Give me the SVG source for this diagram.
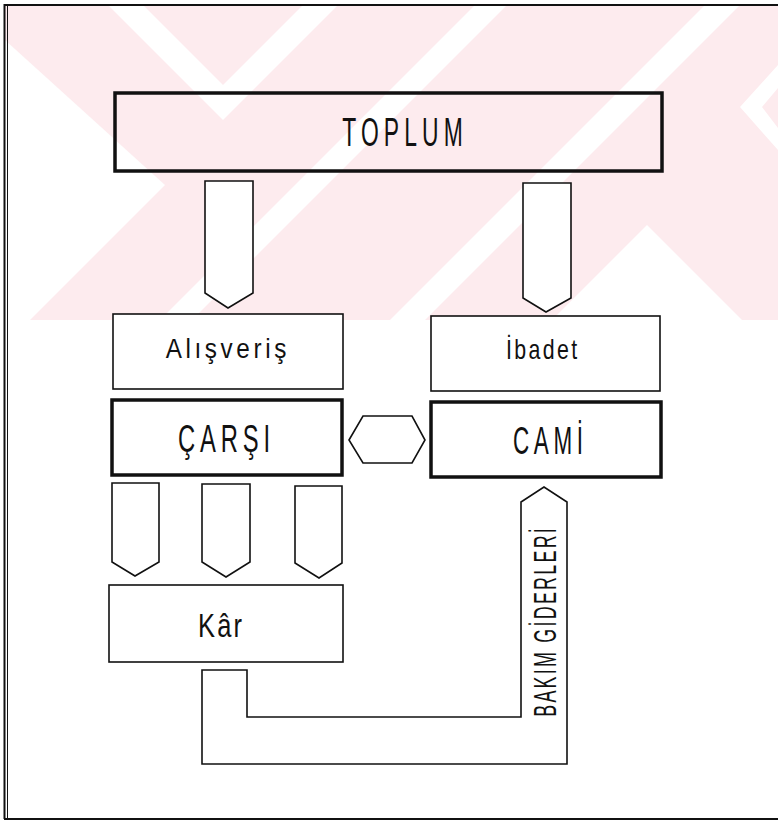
<svg xmlns="http://www.w3.org/2000/svg" width="778" height="821" viewBox="0 0 778 821">
<style>
.thin{fill:#fff;stroke:#111;stroke-width:1.6;stroke-linejoin:miter}
.open{fill:none;stroke:#111;stroke-width:3.5}
.thick{fill:#fff;stroke:#111;stroke-width:3.5}
.arr{fill:#fff;stroke:#111;stroke-width:1.6;stroke-linejoin:miter}
.wm{fill:#fdebee}
.wh{fill:#fff}
text{font-family:"Liberation Sans",Arial,sans-serif;fill:#111;text-anchor:middle}
</style>
<defs>
<clipPath id="wmclip"><rect x="5" y="5" width="773" height="315"/></clipPath>
</defs>
<rect width="778" height="821" fill="#fff"/>
<g id="watermark" clip-path="url(#wmclip)">
<rect class="wm" x="5" y="5" width="773" height="315"/>
<polygon class="wh" points="5,40 165,185 5,345"/>
<polygon class="wh" points="108,5 143,5 223,85 303,5 338,5 223,120"/>
<polygon class="wh" points="160,320 192,320 507,5 475,5"/>
<polygon class="wh" points="390,320 425,320 740,5 705,5"/>
<polygon class="wh" points="647,225 552,320 742,320"/>
<polygon class="wh" points="778,65 740,107 778,150 778,128 762,107 778,88"/>
</g>
<g id="frame">
<line x1="4.5" y1="4" x2="4.5" y2="819" stroke="#111" stroke-width="2"/>
<line x1="7.5" y1="4" x2="7.5" y2="819" stroke="#111" stroke-width="1"/>
<line x1="4" y1="5" x2="778" y2="5" stroke="#111" stroke-width="2"/>
<line x1="4" y1="819" x2="778" y2="819" stroke="#111" stroke-width="2"/>
</g>
<g id="connectors">
<path class="arr" d="M205,181 H253 V293 L228,308 L205,293 Z"/>
<path class="arr" d="M523,183 H571 V298 L546,312 L523,298 Z"/>
<polygon class="arr" points="349,440 363,416 412,416 425,440 412,463 363,463"/>
<path class="arr" d="M112,483 H159 V562 L135,576 L112,562 Z"/>
<path class="arr" d="M202,484 H250 V562 L226,577 L202,562 Z"/>
<path class="arr" d="M295,486 H342 V563 L319,578 L295,563 Z"/>
<path class="arr" d="M202,670 H247 V717 H521 V502 L544,487 L567,502 V764 H202 Z"/>
<text transform="translate(556,622.5) rotate(-90) scale(0.56,1)" x="2" font-size="32" letter-spacing="4">BAKIM GİDERLERİ</text>
</g>
<g id="toplum">
<rect class="open" x="115" y="93" width="547" height="78"/>
<text transform="translate(402.5,146) scale(0.572,1)" x="4.5" font-size="40" letter-spacing="9">TOPLUM</text>
</g>
<g id="alisveris">
<rect class="thin" x="113" y="314" width="230" height="75"/>
<text transform="translate(226,358) scale(0.9,1)" x="2" font-size="27" letter-spacing="4">Alışveriş</text>
</g>
<g id="ibadet">
<rect class="thin" x="431" y="316" width="229" height="75"/>
<text transform="translate(541.5,359) scale(0.79,1)" x="1.5" font-size="27" letter-spacing="3">İbadet</text>
</g>
<g id="carsi">
<rect class="thick" x="112" y="400" width="230" height="75"/>
<text transform="translate(224,452) scale(0.61,1)" x="4" font-size="39" letter-spacing="8">ÇARŞI</text>
</g>
<g id="cami">
<rect class="thick" x="431" y="402" width="230" height="75"/>
<text transform="translate(548,454) scale(0.576,1)" x="4" font-size="39" letter-spacing="8">CAMİ</text>
</g>
<g id="kar">
<rect class="thin" x="109" y="585" width="234" height="77"/>
<text transform="translate(220,637) scale(0.75,1)" x="1.5" font-size="34" letter-spacing="3">Kâr</text>
</g>
</svg>
